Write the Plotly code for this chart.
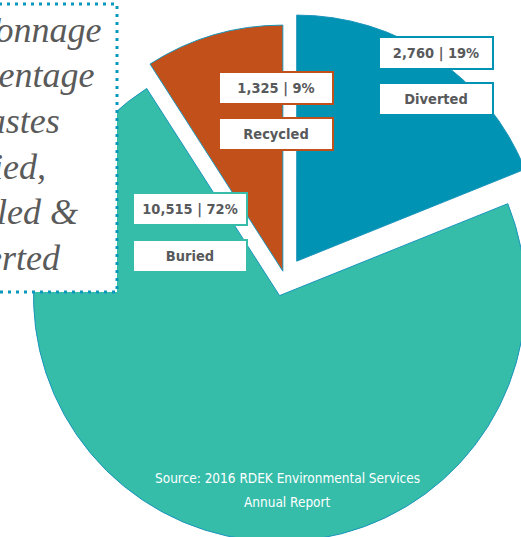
import plotly.graph_objects as go

# ---- data ----
categories = ["Diverted", "Buried", "Recycled"]
tonnes = [2760, 10515, 1325]
percent_labels = [19, 72, 9]
slice_colors = ["#0193b4", "#35bdaa", "#c2501b"]
slice_pull = [0.085, 0.073, 0.031]
title_lines = ["Total Tonnage", "and Percentage", "of Wastes", "Buried,", "Recycled &", "Diverted"]
source_lines = ["Source: 2016 RDEK Environmental Services", "Annual Report"]

W, H = 552, 546

def px(x):
    return x / W

def py(y):
    return 1 - y / H

fig = go.Figure()
fig.add_trace(go.Pie(
    labels=categories,
    values=tonnes,
    sort=False,
    direction="clockwise",
    rotation=0,
    pull=slice_pull,
    marker=dict(colors=slice_colors, line=dict(color="#1b95bb", width=1)),
    textinfo="none",
    hoverinfo="label+value+percent",
    showlegend=False,
    domain=dict(x=[px(18), 1.0], y=[py(545.5), py(11.5)]),
))

cond = "DejaVu Sans Condensed, Liberation Sans Narrow, Roboto, sans-serif"
label_font = dict(family=cond, size=14.5, color="#58595b", weight="bold")

box_centers = {
    "Diverted": (436, 53, 98.5),
    "Recycled": (276, 88, 133.5),
    "Buried": (190, 209.5, 256),
}
annotations = []
for cat, val, pct, col in zip(categories, tonnes, percent_labels, slice_colors):
    cx, y1, y2 = box_centers[cat]
    for txt, yy in ((f"{val:,} | {pct}%", y1), (cat, y2)):
        annotations.append(dict(
            x=px(cx), y=py(yy), xref="paper", yref="paper",
            text=txt, showarrow=False, font=label_font,
            bgcolor="white", bordercolor=col, borderwidth=2, borderpad=1,
            width=110, height=28, xanchor="center", yanchor="middle", align="center",
        ))

# title lines, positioned by the right edge of each line
title_pos = [(103, 30), (97, 75), (62, 121), (48, 167), (80, 212), (63, 258)]
for t, (xr, yc) in zip(title_lines, title_pos):
    annotations.append(dict(
        x=px(xr), y=py(yc), xref="paper", yref="paper", text=t, showarrow=False,
        font=dict(family="Liberation Serif, DejaVu Serif, serif", size=36, color="#5a5a5a", style="italic"),
        xanchor="right", yanchor="middle",
    ))

for t, yc in zip(source_lines, (478, 502)):
    annotations.append(dict(
        x=px(287), y=py(yc), xref="paper", yref="paper", text=t, showarrow=False,
        font=dict(family=cond, size=13.5, color="white"),
        xanchor="center", yanchor="middle",
    ))

fig.update_layout(
    width=W, height=H,
    margin=dict(l=0, r=0, t=0, b=0),
    paper_bgcolor="white", plot_bgcolor="white",
    annotations=annotations,
    shapes=[dict(
        type="rect", xref="paper", yref="paper",
        x0=px(-40), x1=px(117), y0=py(292), y1=py(4),
        fillcolor="white", line=dict(color="#0a97bd", width=3, dash="3px,5px"),
        layer="above",
    )],
)

fig.write_html(
    "out.html",
    config={"displayModeBar": False},
    post_script="document.body.style.margin='0px';document.body.style.overflow='hidden';",
)
